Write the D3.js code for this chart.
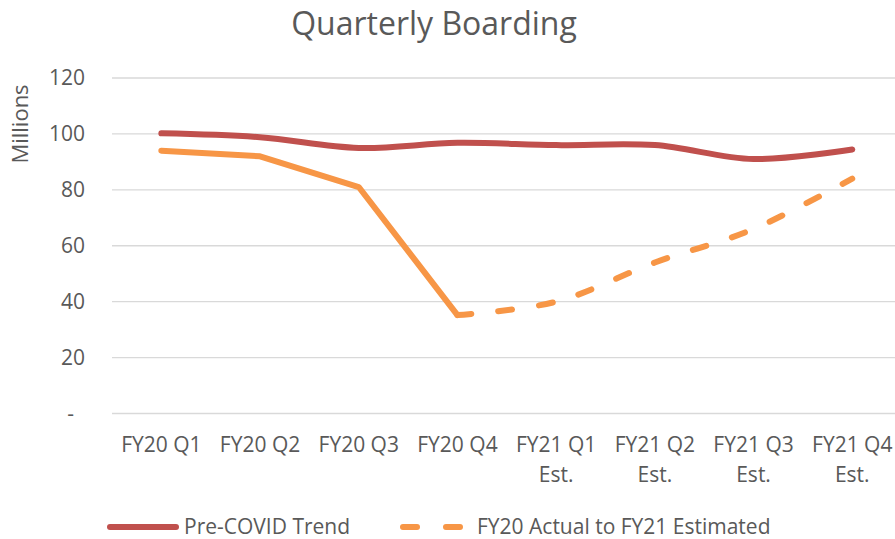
<!DOCTYPE html>
<html>
<head>
<meta charset="utf-8">
<script src="https://cdn.jsdelivr.net/npm/d3@7"></script>
<style>
body{margin:0;background:#fff;}
text{font-family:"Open Sans",sans-serif;fill:#595959;}
</style>
</head>
<body>
<script>
// chart data
var quarters = ["FY20 Q1","FY20 Q2","FY20 Q3","FY20 Q4","FY21 Q1 Est.","FY21 Q2 Est.","FY21 Q3 Est.","FY21 Q4 Est."];
var preCovid = [100.2, 98.8, 95, 96.8, 96, 96, 91, 94.4];
var actualEst = [94, 92, 81, 35.2, 40, 54, 66, 84];
var actualCount = 4; // first 4 quarters are actual, the rest estimated
var yTicks = [0,20,40,60,80,100,120];

var width = 895, height = 539;

var svg = d3.select("body").append("svg")//canvas
    .attr("width", width)
    .attr("height", height);

var xScale = d3.scalePoint()
    .domain(quarters)
    .range([112, 112 + 8*98.7])
    .padding(0.5);
var yScale = d3.scaleLinear()
    .domain([0,120])
    .range([413.5, 78]);

// gridlines
svg.append("g").selectAll("line")
    .data(yTicks)
    .enter().append("line")
    .attr("x1", 112).attr("x2", 905)
    .attr("y1", function(d){return yScale(d);})
    .attr("y2", function(d){return yScale(d);})
    .attr("stroke", "#d9d9d9")
    .attr("stroke-width", 1.3);

// y axis labels
var yAxis = d3.axisLeft(yScale).tickValues(yTicks).tickSize(0).tickPadding(0)
    .tickFormat(function(d){return d==0 ? "-" : d;});
var yg = svg.append("g").attr("transform","translate(85,0)").call(yAxis);
yg.select(".domain").remove();
yg.selectAll("text").style("font-size","21px").style("font-family","'Open Sans',sans-serif").attr("fill","#595959");
yg.selectAll(".tick").filter(function(d){return d==0;}).select("text").attr("dx","-11");

// x axis labels (wrapped in two lines)
var xg = svg.append("g");
quarters.forEach(function(q){
    var parts = q.split(" ");
    var t = xg.append("text")
        .attr("x", xScale(q))
        .attr("y", 452)
        .attr("text-anchor","middle")
        .style("font-size","21px");
    t.append("tspan").attr("x", xScale(q)).text(parts[0]+" "+parts[1]);
    if(parts.length > 2){
        t.append("tspan").attr("x", xScale(q)).attr("dy", 30).text(parts[2]);
    }
});

// title and axis title
svg.append("text").attr("x", 434).attr("y", 35).attr("text-anchor","middle")
    .style("font-size","32px").text("Quarterly Boarding");
svg.append("text").attr("transform","translate(28,124) rotate(-90)")
    .attr("text-anchor","middle").style("font-size","22px").text("Millions");

// lines
var smooth = d3.line()
    .x(function(d){return xScale(d.q);})
    .y(function(d){return yScale(d.v);})
    .curve(d3.curveCatmullRom.alpha(0.5));
var straight = d3.line()
    .x(function(d){return xScale(d.q);})
    .y(function(d){return yScale(d.v);});

var preData = quarters.map(function(q,i){return {q:q, v:preCovid[i]};});
var orangeData = quarters.map(function(q,i){return {q:q, v:actualEst[i]};});

svg.append("path").datum(preData)
    .attr("d", smooth)
    .attr("fill","none").attr("stroke","#c0504d")
    .attr("stroke-width",6).attr("stroke-linecap","round").attr("stroke-linejoin","round");

svg.append("path").datum(orangeData.slice(0, actualCount))
    .attr("d", straight)
    .attr("fill","none").attr("stroke","#f79646")
    .attr("stroke-width",6).attr("stroke-linecap","round").attr("stroke-linejoin","round");

svg.append("path").datum(orangeData.slice(actualCount-1))
    .attr("d", smooth)
    .attr("fill","none").attr("stroke","#f79646")
    .attr("stroke-width",6).attr("stroke-linecap","round")
    .attr("stroke-dasharray","14,27");

// legend
var lg = svg.append("g");
lg.append("line").attr("x1",110).attr("x2",176).attr("y1",527).attr("y2",527)
    .attr("stroke","#c0504d").attr("stroke-width",6).attr("stroke-linecap","round");
lg.append("text").attr("x",184).attr("y",534).style("font-size","21px").text("Pre-COVID Trend");
lg.append("line").attr("x1",403).attr("x2",463).attr("y1",527).attr("y2",527)
    .attr("stroke","#f79646").attr("stroke-width",6).attr("stroke-linecap","round")
    .attr("stroke-dasharray","14,29");
lg.append("text").attr("x",477).attr("y",534).style("font-size","21px").text("FY20 Actual to FY21 Estimated");
</script>
</body>
</html>
